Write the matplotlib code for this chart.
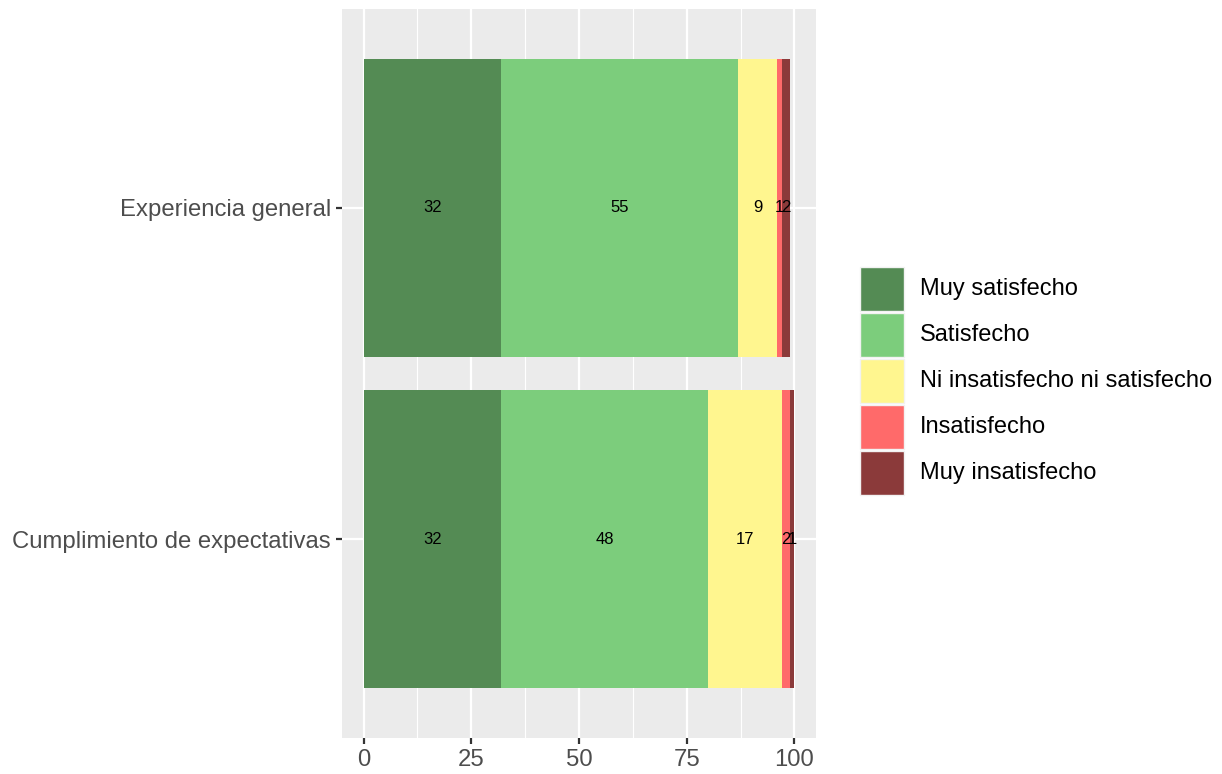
import numpy as np
import matplotlib
matplotlib.use('Agg')
import matplotlib.pyplot as plt
from matplotlib.patches import Rectangle

plt.rcParams['font.family'] = ['Liberation Sans', 'DejaVu Sans']

# categories (bottom to top) and response levels
items = ['Cumplimiento de expectativas', 'Experiencia general']
levels = ['Muy satisfecho', 'Satisfecho', 'Ni insatisfecho ni satisfecho',
          'Insatisfecho', 'Muy insatisfecho']
colors = ['#548B54', '#7CCD7C', '#FFF68F', '#FF6A6A', '#8B3A3A']

# percentage per level, one list per item (same order as items)
muy_satisfecho = [32, 32]
satisfecho = [48, 55]
ni_ni = [17, 9]
insatisfecho = [2, 1]
muy_insatisfecho = [1, 2]
values = [muy_satisfecho, satisfecho, ni_ni, insatisfecho, muy_insatisfecho]

fig = plt.figure(figsize=(12.22, 7.74), dpi=100)
ax = fig.add_axes([342 / 1222, 36 / 774, 474 / 1222, 729 / 774])
ax.set_facecolor('#EBEBEB')

ypos = np.arange(1, len(items) + 1)
left = np.zeros(len(items))
for lev, col, vals in zip(levels, colors, values):
    vals = np.array(vals, dtype=float)
    ax.barh(ypos, vals, left=left, height=0.9, color=col, zorder=3)
    for y, l, v in zip(ypos, left, vals):
        ax.text(l + v / 2, y, f'{int(v)}', ha='center', va='center',
                fontsize=12, color='black', zorder=4)
    left += vals

ax.set_xlim(-5, 105)
ax.set_ylim(0.4, 2.6)
ax.set_xticks([0, 25, 50, 75, 100])
ax.set_xticks([12.5, 37.5, 62.5, 87.5], minor=True)
ax.set_yticks(ypos)
ax.set_yticklabels(items)
ax.grid(which='major', color='white', linewidth=1.6, zorder=0)
ax.grid(which='minor', axis='x', color='white', linewidth=0.8, zorder=0)
ax.tick_params(axis='both', which='major', length=4, width=1.6, color='#333333',
               labelsize=17.2, labelcolor='#4D4D4D', pad=4)
ax.tick_params(axis='both', which='minor', length=0)
for s in ax.spines.values():
    s.set_visible(False)

# legend drawn by hand, ggplot style
kx, kw, kh, pitch, ktop = 860, 44, 44, 46, 267
for i, (lev, col) in enumerate(zip(levels, colors)):
    y0 = ktop + i * pitch
    fig.patches.append(Rectangle((kx / 1222, 1 - (y0 + kh) / 774), kw / 1222, kh / 774,
                                 transform=fig.transFigure, facecolor=col,
                                 edgecolor='#F2F2F2', linewidth=1))
    fig.text((kx + kw + 16) / 1222, 1 - (y0 + kh / 2) / 774, lev,
             ha='left', va='center', fontsize=17, color='black')

fig.savefig('out.png', dpi=100)
